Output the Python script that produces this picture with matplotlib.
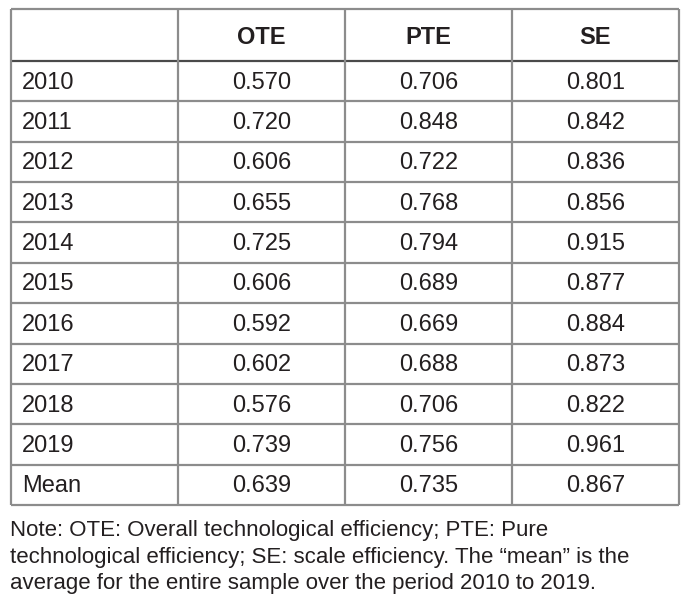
import matplotlib
matplotlib.use("Agg")
import matplotlib.pyplot as plt

# datos de la tabla
columnas = ["OTE", "PTE", "SE"]
anios = ["2010", "2011", "2012", "2013", "2014", "2015", "2016", "2017", "2018", "2019", "Mean"]
ote = [0.570, 0.720, 0.606, 0.655, 0.725, 0.606, 0.592, 0.602, 0.576, 0.739, 0.639]
pte = [0.706, 0.848, 0.722, 0.768, 0.794, 0.689, 0.669, 0.688, 0.706, 0.756, 0.735]
se = [0.801, 0.842, 0.836, 0.856, 0.915, 0.877, 0.884, 0.873, 0.822, 0.961, 0.867]
nota = ["Note: OTE: Overall technological efficiency; PTE: Pure",
        "technological efficiency; SE: scale efficiency. The \u201cmean\u201d is the",
        "average for the entire sample over the period 2010 to 2019."]

plt.rcParams["font.family"] = ["Liberation Sans", "DejaVu Sans"]
texto = "#231f20"
gris = "#8c8c8c"

fig = plt.figure(figsize=(6.99, 6.04), dpi=100)
ax = fig.add_axes([0, 0, 1, 1])
ax.set_xlim(0, 699)
ax.set_ylim(604, 0)
ax.axis("off")

x_cols = [11, 178, 345, 512, 679]
y_top = 9
y_head = 61
alto = (505 - y_head) / len(anios)
y_fin = y_head + alto * len(anios)

# lineas
for i in range(len(anios)):
    y = y_head + alto * (i + 1)
    ax.plot([x_cols[0], x_cols[-1]], [y, y], color=gris, lw=1.6, solid_capstyle="butt")
ax.plot([x_cols[0], x_cols[-1]], [y_top, y_top], color=gris, lw=1.6, solid_capstyle="butt")
ax.plot([x_cols[0], x_cols[-1]], [y_head, y_head], color="#4a4a4a", lw=1.6, solid_capstyle="butt")
for x in x_cols:
    ax.plot([x, x], [y_top, y_fin], color=gris, lw=1.6, solid_capstyle="butt")

# encabezado
for j, c in enumerate(columnas):
    xc = (x_cols[j + 1] + x_cols[j + 2]) / 2
    ax.text(xc, (y_top + y_head) / 2 + 2.5, c, ha="center", va="center",
            fontsize=17, fontweight="bold", color=texto)

valores = [ote, pte, se]
for i, a in enumerate(anios):
    yc = y_head + alto * (i + 0.5) + 1.5
    ax.text(x_cols[0] + 11, yc, a, ha="left", va="center", fontsize=17, color=texto)
    for j in range(3):
        xc = (x_cols[j + 1] + x_cols[j + 2]) / 2
        ax.text(xc, yc, "{:.3f}".format(valores[j][i]), ha="center", va="center",
                fontsize=17, color=texto)

for k, linea in enumerate(nota):
    ax.text(10, 530.5 + k * 26.5, linea, ha="left", va="center", fontsize=16, color=texto)

fig.savefig("out.png", dpi=100)
